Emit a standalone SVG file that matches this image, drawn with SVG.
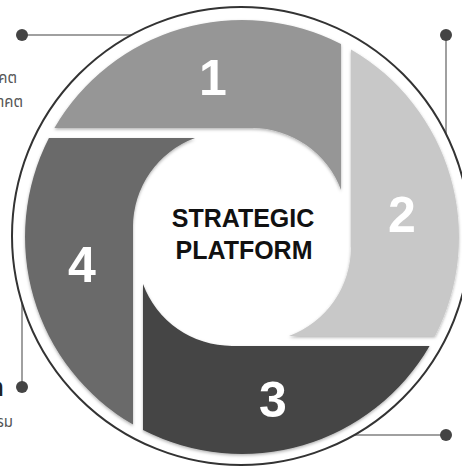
<svg xmlns="http://www.w3.org/2000/svg" width="462" height="467" viewBox="0 0 462 467">
  <style>
    .num { font-family: "Liberation Sans", Arial, sans-serif; font-weight: bold; font-size: 50px; fill: #ffffff; text-anchor: middle; }
    .center { font-family: "Liberation Sans", Arial, sans-serif; font-weight: bold; font-size: 25px; fill: #111111; text-anchor: middle; }
    .side { font-family: "Noto Sans Thai", "Noto Sans", "DejaVu Sans", sans-serif; font-size: 15px; fill: #555555; text-anchor: end; }
    .sidebold { font-family: "Noto Sans Thai", "Noto Sans", "DejaVu Sans", sans-serif; font-size: 26px; font-weight: bold; fill: #222222; text-anchor: end; }
    .conn { stroke: #808080; stroke-width: 1.5; fill: none; }
    .dot { fill: #444444; }
    .seg { filter: url(#soft); }
  </style>
  <defs>
    <filter id="soft" x="-10%" y="-10%" width="120%" height="120%">
      <feGaussianBlur in="SourceGraphic" stdDeviation="0.4" result="b"/>
      <feDropShadow in="b" dx="0" dy="1.5" stdDeviation="1.5" flood-color="#000000" flood-opacity="0.3"/>
    </filter>
  </defs>
  <rect width="462" height="467" fill="#ffffff"/>

  <g id="connectors">
    <line class="conn" x1="22" y1="35" x2="131" y2="35"/>
    <circle class="dot" cx="22" cy="35" r="6"/>
    <line class="conn" x1="446" y1="35" x2="446" y2="134"/>
    <circle class="dot" cx="446" cy="35" r="6"/>
    <line class="conn" x1="354" y1="435" x2="446" y2="435"/>
    <circle class="dot" cx="446" cy="435" r="6"/>
    <line class="conn" x1="22" y1="303" x2="22" y2="387"/>
    <circle class="dot" cx="22" cy="387" r="6"/>
  </g>

  <circle id="outer-ring" cx="241" cy="236" r="229" fill="#ffffff" stroke="#333333" stroke-width="2"/>

  <g id="seg1">
    <path class="seg" fill="#969696" transform="translate(242,237)" d="M 99,-193.1 L 99,-47 A 95 95 0 0 0 10,-109 L -187.6,-109 A 217 217 0 0 1 99,-193.1 Z"/>
    <text class="num" x="213" y="95">1</text>
  </g>
  <g id="seg2">
    <path class="seg" fill="#c8c8c8" transform="translate(242,237)" d="M 193.1,99 L 47,99 A 95 95 0 0 0 109,10 L 109,-187.6 A 217 217 0 0 1 193.1,99 Z"/>
    <text class="num" x="402" y="232">2</text>
  </g>
  <g id="seg3">
    <path class="seg" fill="#454545" transform="translate(242,237)" d="M -99,193.1 L -99,47 A 95 95 0 0 0 -10,109 L 187.6,109 A 217 217 0 0 1 -99,193.1 Z"/>
    <text class="num" x="273" y="417">3</text>
  </g>
  <g id="seg4">
    <path class="seg" fill="#6b6b6b" transform="translate(242,237)" d="M -193.1,-99 L -47,-99 A 95 95 0 0 0 -109,-10 L -109,187.6 A 217 217 0 0 1 -193.1,-99 Z"/>
    <text class="num" x="82" y="282">4</text>
  </g>

  <g id="center-label">
    <text class="center" x="243" y="227">STRATEGIC</text>
    <text class="center" x="244" y="259">PLATFORM</text>
  </g>

  <g id="label-top-left">
    <text class="side" x="17" y="83">คต</text>
    <text class="side" x="23" y="107">าคต</text>
  </g>
  <g id="label-bottom-left">
    <text class="sidebold" x="4" y="396">ก</text>
    <text class="side" x="13" y="427">รม</text>
  </g>
</svg>
